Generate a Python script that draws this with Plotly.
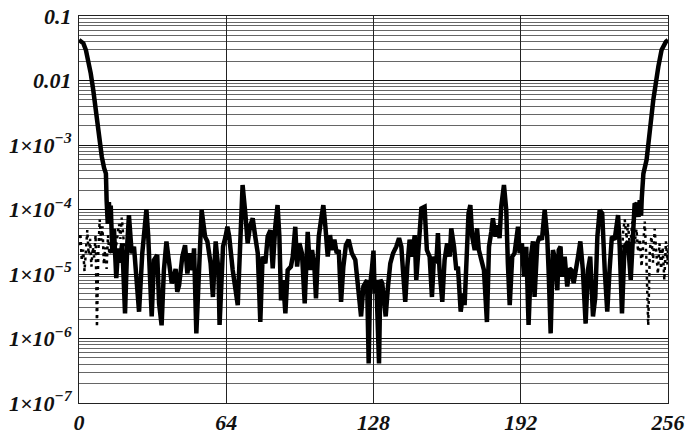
import plotly.graph_objects as go

# ---- main (solid) trace ----
main_x = [0.0, 1.9, 3.0, 4.1, 5.1, 6.2, 7.2, 8.4, 9.9, 10.9, 11.7, 12.0,
          12.5, 13.0, 13.4, 13.8, 14.5, 15.2, 16.2, 17.0, 17.6, 18.8, 20.0, 21.0, 21.7, 22.9, 23.9,
          26.1, 27.5, 29.3, 30.1, 31.6, 32.6, 34.0, 34.8, 35.9, 36.9, 38.0, 39.1, 40.3, 41.2, 42.0,
          42.7, 43.5, 44.9, 46.1, 47.1, 48.2, 49.3, 50.0, 51.0, 52.2, 53.3, 54.8, 55.8, 57.2, 58.2,
          59.4, 60.6, 61.1, 62.6, 63.7, 64.5, 65.3, 66.8, 69.0, 70.0, 71.1, 72.3, 73.3, 74.3, 75.5,
          76.6, 77.7, 78.8, 79.8, 81.0, 82.0, 83.2, 84.2, 85.3, 86.3, 87.1, 87.8, 88.7, 89.7, 90.7,
          92.1, 92.9, 94.0, 94.8, 95.8, 96.9, 98.1, 99.4, 100.4, 101.3, 102.3, 103.0, 104.2, 105.2,
          106.2, 107.1, 108.1, 109.1, 110.0, 111.0, 112.0, 112.9, 113.9, 114.9, 116.0, 117.2, 118.6,
          120.1, 121.1, 122.6, 123.6, 124.4, 125.2, 125.9, 126.5, 127.3, 128.0, 128.5, 129.2, 130.4,
          131.0, 131.8, 133.3, 134.3, 135.3, 136.5, 137.9, 139.1, 140.1, 140.8, 141.8, 142.7, 143.7,
          144.9, 145.9, 146.6, 147.6, 148.8, 150.2, 151.2, 152.4, 153.4, 154.3, 155.3, 156.0, 156.7,
          157.9, 158.9, 160.0, 161.1, 161.8, 163.0, 164.0, 164.7, 165.9, 166.9, 167.6, 168.6, 169.3,
          170.1, 170.9, 172.0, 173.0, 173.8, 174.9, 176.0, 177.3, 178.2, 179.2, 179.9, 181.0, 182.1,
          182.8, 183.5, 184.7, 185.7, 186.4, 187.2, 188.3, 189.3, 190.8, 191.5, 192.5, 193.4, 194.4,
          195.4, 196.6, 197.3, 198.0, 199.2, 200.2, 201.2, 202.4, 203.5, 204.1, 205.0, 206.0, 207.0,
          207.9, 208.5, 209.3, 209.9, 211.1, 212.2, 213.2, 214.0, 215.0, 216.1, 216.9, 217.9, 219.0,
          220.2, 221.2, 222.2, 223.4, 224.4, 225.3, 226.3, 227.4, 228.5, 229.6, 230.6, 231.6, 232.8,
          234.3, 235.0, 236.0, 237.1, 238.6, 239.8, 240.8, 241.5, 242.5, 243.2, 243.7, 244.3, 244.6,
          245.3, 246.7, 248.2, 249.6, 251.8, 253.2, 255.1, 256.0]
main_y = [0.0425, 0.0377, 0.0297, 0.0208, 0.0129, 0.0071, 0.0035, 0.0015, 6.6e-4, 4.4e-4, 3.6e-4, 1.4e-4,
          6.0e-5, 1.3e-4, 7.0e-5, 1.15e-4, 2.1e-5, 5.0e-5, 8.6e-6, 2.5e-5, 1.5e-5, 3.0e-5, 2.45e-6, 3.0e-5, 8.2e-5, 2.1e-5, 2.65e-5,
          2.6e-6, 2.1e-5, 1.0e-4, 3.8e-5, 2.2e-6, 1.65e-5, 1.97e-5, 3.5e-6, 1.6e-6, 1.15e-5, 3.2e-5, 1.65e-5, 7.2e-6, 9.0e-6, 1.2e-5,
          5.3e-6, 6.7e-6, 1.86e-5, 2.8e-5, 1.02e-5, 2.1e-5, 1.15e-5, 2.5e-5, 1.2e-6, 1.15e-5, 9.8e-5, 3.8e-5, 3.2e-5, 1.46e-5, 4.4e-6,
          3.2e-5, 1.15e-5, 1.62e-6, 2.65e-5, 3.8e-5, 5.4e-5, 3.8e-5, 1.15e-5, 3.3e-6, 3.8e-5, 2.4e-4, 8.7e-5, 3.0e-5, 5.4e-5, 7.3e-5,
          3.8e-5, 2.1e-5, 1.8e-6, 1.86e-5, 1.46e-5, 3.8e-5, 4.8e-5, 1.22e-5, 5.4e-5, 1.17e-4, 3.8e-5, 3.9e-6, 8.0e-6, 2.45e-6, 1.15e-5,
          1.3e-5, 1.86e-5, 5.4e-5, 1.3e-5, 3.0e-5, 2.1e-5, 3.5e-6, 4.5e-5, 1.15e-5, 2.35e-5, 1.3e-5, 4.2e-6, 3.8e-5, 6.9e-5,
          1.17e-4, 5.4e-5, 1.86e-5, 4.0e-5, 2.35e-5, 3.4e-5, 2.1e-5, 2.35e-5, 3.7e-6, 1.3e-5, 2.8e-5, 3.4e-5, 2.1e-5,
          1.65e-5, 6.4e-6, 2.2e-6, 6.4e-6, 7.2e-6, 8.0e-6, 4.1e-7, 6.4e-6, 1.2e-5, 2.3e-5, 5.0e-6, 8.1e-6, 4.1e-7,
          8.1e-6, 7.2e-6, 2.2e-6, 6.4e-6, 1.46e-5, 2.1e-5, 2.65e-5, 3.6e-5, 2.65e-5, 1.15e-5, 3.7e-6, 1.3e-5, 3.4e-5,
          1.86e-5, 4.0e-5, 8.1e-6, 3.0e-5, 1.04e-4, 1.1e-4, 2.35e-5, 1.86e-5, 4.4e-6, 1.86e-5, 1.46e-5, 4.3e-5, 1.15e-5,
          3.7e-6, 1.65e-5, 3.0e-5, 1.86e-5, 5.1e-5, 2.65e-5, 1.15e-5, 1.3e-5, 2.6e-6, 5.0e-6, 3.3e-6, 3.0e-5, 8.7e-5,
          1.17e-4, 3.8e-5, 2.35e-5, 5.1e-5, 2.35e-5, 1.65e-5, 1.15e-5, 1.8e-6, 2.65e-5, 4.5e-5, 7.3e-5, 3.8e-5, 5.7e-5,
          3.6e-5, 1.1e-4, 2.4e-4, 9.8e-5, 1.46e-5, 3.3e-6, 1.86e-5, 2.1e-5, 5.4e-5, 2.1e-5, 3.0e-5, 9.1e-6, 2.65e-5,
          1.62e-6, 2.1e-5, 3.2e-5, 4.4e-6, 3.0e-5, 3.8e-5, 3.4e-5, 9.8e-5, 3.8e-5, 1.15e-5, 1.2e-6, 2.35e-5, 1.65e-5,
          5.6e-6, 2.35e-5, 2.65e-5, 9.1e-6, 1.86e-5, 6.4e-6, 1.22e-5, 1.15e-5, 7.2e-6, 1.15e-5, 1.86e-5, 3.2e-5, 1.15e-5,
          1.7e-6, 1.15e-5, 1.86e-5, 2.2e-6, 4.4e-6, 3.8e-5, 9.8e-5, 8.7e-5, 1.15e-5, 2.6e-6, 1.15e-5, 3.8e-5, 3.4e-5,
          8.2e-5, 2.65e-5, 2.45e-6, 2.65e-5, 3.2e-5, 8.1e-6, 3.8e-5, 1.24e-4, 1.17e-4, 7.7e-5, 1.4e-4, 8.0e-5, 1.5e-4,
          3.6e-4, 5.9e-4, 1.9e-3, 5.0e-3, 0.0164, 0.0297, 0.040, 0.0425]

# ---- dotted trace (visible near both ends) ----
dot_left_x = [0.0, 0.6, 1.2, 1.8, 2.4, 3.0, 3.6, 4.2, 4.8, 5.4, 6.0, 6.6, 7.2, 7.8, 8.4, 9.0,
              9.6, 10.2, 10.8, 11.4, 12.0, 12.6, 13.2, 14.0, 15.0, 16.0, 17.4, 18.0, 18.6, 19.2, 20.0]
dot_left_y = [2.8e-5, 4.3e-5, 1.6e-5, 2.4e-5, 1.1e-5, 3.0e-5, 4.8e-5, 2.0e-5, 3.5e-5, 1.3e-5, 2.6e-5,
              1.8e-5, 4.0e-5, 1.5e-6, 2.2e-5, 7.0e-5, 3.3e-5, 5.5e-5, 1.4e-5, 2.6e-5, 1.2e-5, 4.0e-5,
              2.0e-5, 3.0e-5, 4.0e-5, 2.5e-5, 6.0e-5, 3.5e-5, 7.5e-5, 4.0e-5, 2.0e-5]
dot_right_x = [236.0, 236.5, 237.2, 238.0, 238.6, 239.5, 240.5, 241.5, 242.3, 243.0, 243.8, 244.5,
               245.2, 245.9, 246.6, 247.4, 248.1, 248.8, 249.5, 250.2, 250.9, 251.6, 252.3, 253.0,
               253.7, 254.4, 255.1, 255.8, 256.0]
dot_right_y = [2.0e-5, 4.5e-5, 7.0e-5, 3.5e-5, 6.0e-5, 2.5e-5, 6.5e-5, 3.0e-5, 5.0e-5, 2.2e-5, 3.5e-5,
               1.3e-5, 2.8e-5, 6.5e-5, 1.7e-5, 1.6e-6, 2.4e-5, 3.8e-5, 1.5e-5, 5.0e-5, 2.2e-5, 1.0e-5,
               3.0e-5, 1.2e-5, 2.6e-5, 8.0e-6, 3.2e-5, 1.4e-5, 2.8e-5]

x_ticks = [0, 64, 128, 192, 256]
x_tick_labels = ["0", "64", "128", "192", "256"]
y_ticks = [1e-7, 1e-6, 1e-5, 1e-4, 1e-3, 1e-2, 1e-1]
y_tick_labels = ["1×10<sup>−7</sup>", "1×10<sup>−6</sup>", "1×10<sup>−5</sup>", "1×10<sup>−4</sup>",
                 "1×10<sup>−3</sup>", "0.01", "0.1"]

minor_vals = [k * 10.0 ** e for e in range(-7, -1) for k in range(2, 10)]

label_font = dict(family="Liberation Serif, Times New Roman, serif", size=22, color="#111",
                  weight="bold", style="italic")

fig = go.Figure()
for dx, dy in ((dot_left_x, dot_left_y), (dot_right_x, dot_right_y)):
    fig.add_trace(go.Scatter(x=dx, y=dy, mode="lines",
                             line=dict(color="black", width=2.5, dash="3px,4px"),
                             showlegend=False, hoverinfo="skip"))
fig.add_trace(go.Scatter(x=main_x, y=main_y, mode="lines",
                         line=dict(color="black", width=4.5),
                         showlegend=False))

fig.update_layout(
    width=689, height=435,
    margin=dict(l=79, r=21, t=16, b=32),
    paper_bgcolor="white", plot_bgcolor="white",
    xaxis=dict(range=[0, 256], tickmode="array", tickvals=x_ticks, ticktext=x_tick_labels,
               showgrid=True, gridcolor="#222", gridwidth=1, zeroline=False,
               showline=True, mirror=True, linecolor="#222", linewidth=1,
               ticks="", tickfont=label_font, automargin=False),
    yaxis=dict(type="log", range=[-7, -1], tickmode="array", tickvals=y_ticks, ticktext=y_tick_labels,
               showgrid=True, gridcolor="#111", gridwidth=1, zeroline=False,
               showline=True, mirror=True, linecolor="#222", linewidth=1,
               ticks="", tickfont=label_font, automargin=False, ticklabelstandoff=2,
               minor=dict(tickmode="array", tickvals=minor_vals, showgrid=True,
                          gridcolor="#666", gridwidth=1, ticks="")),
)

fig.write_html("out.html", config={"displayModeBar": False},
               post_script="document.body.style.margin='0';document.body.style.overflow='hidden';")
